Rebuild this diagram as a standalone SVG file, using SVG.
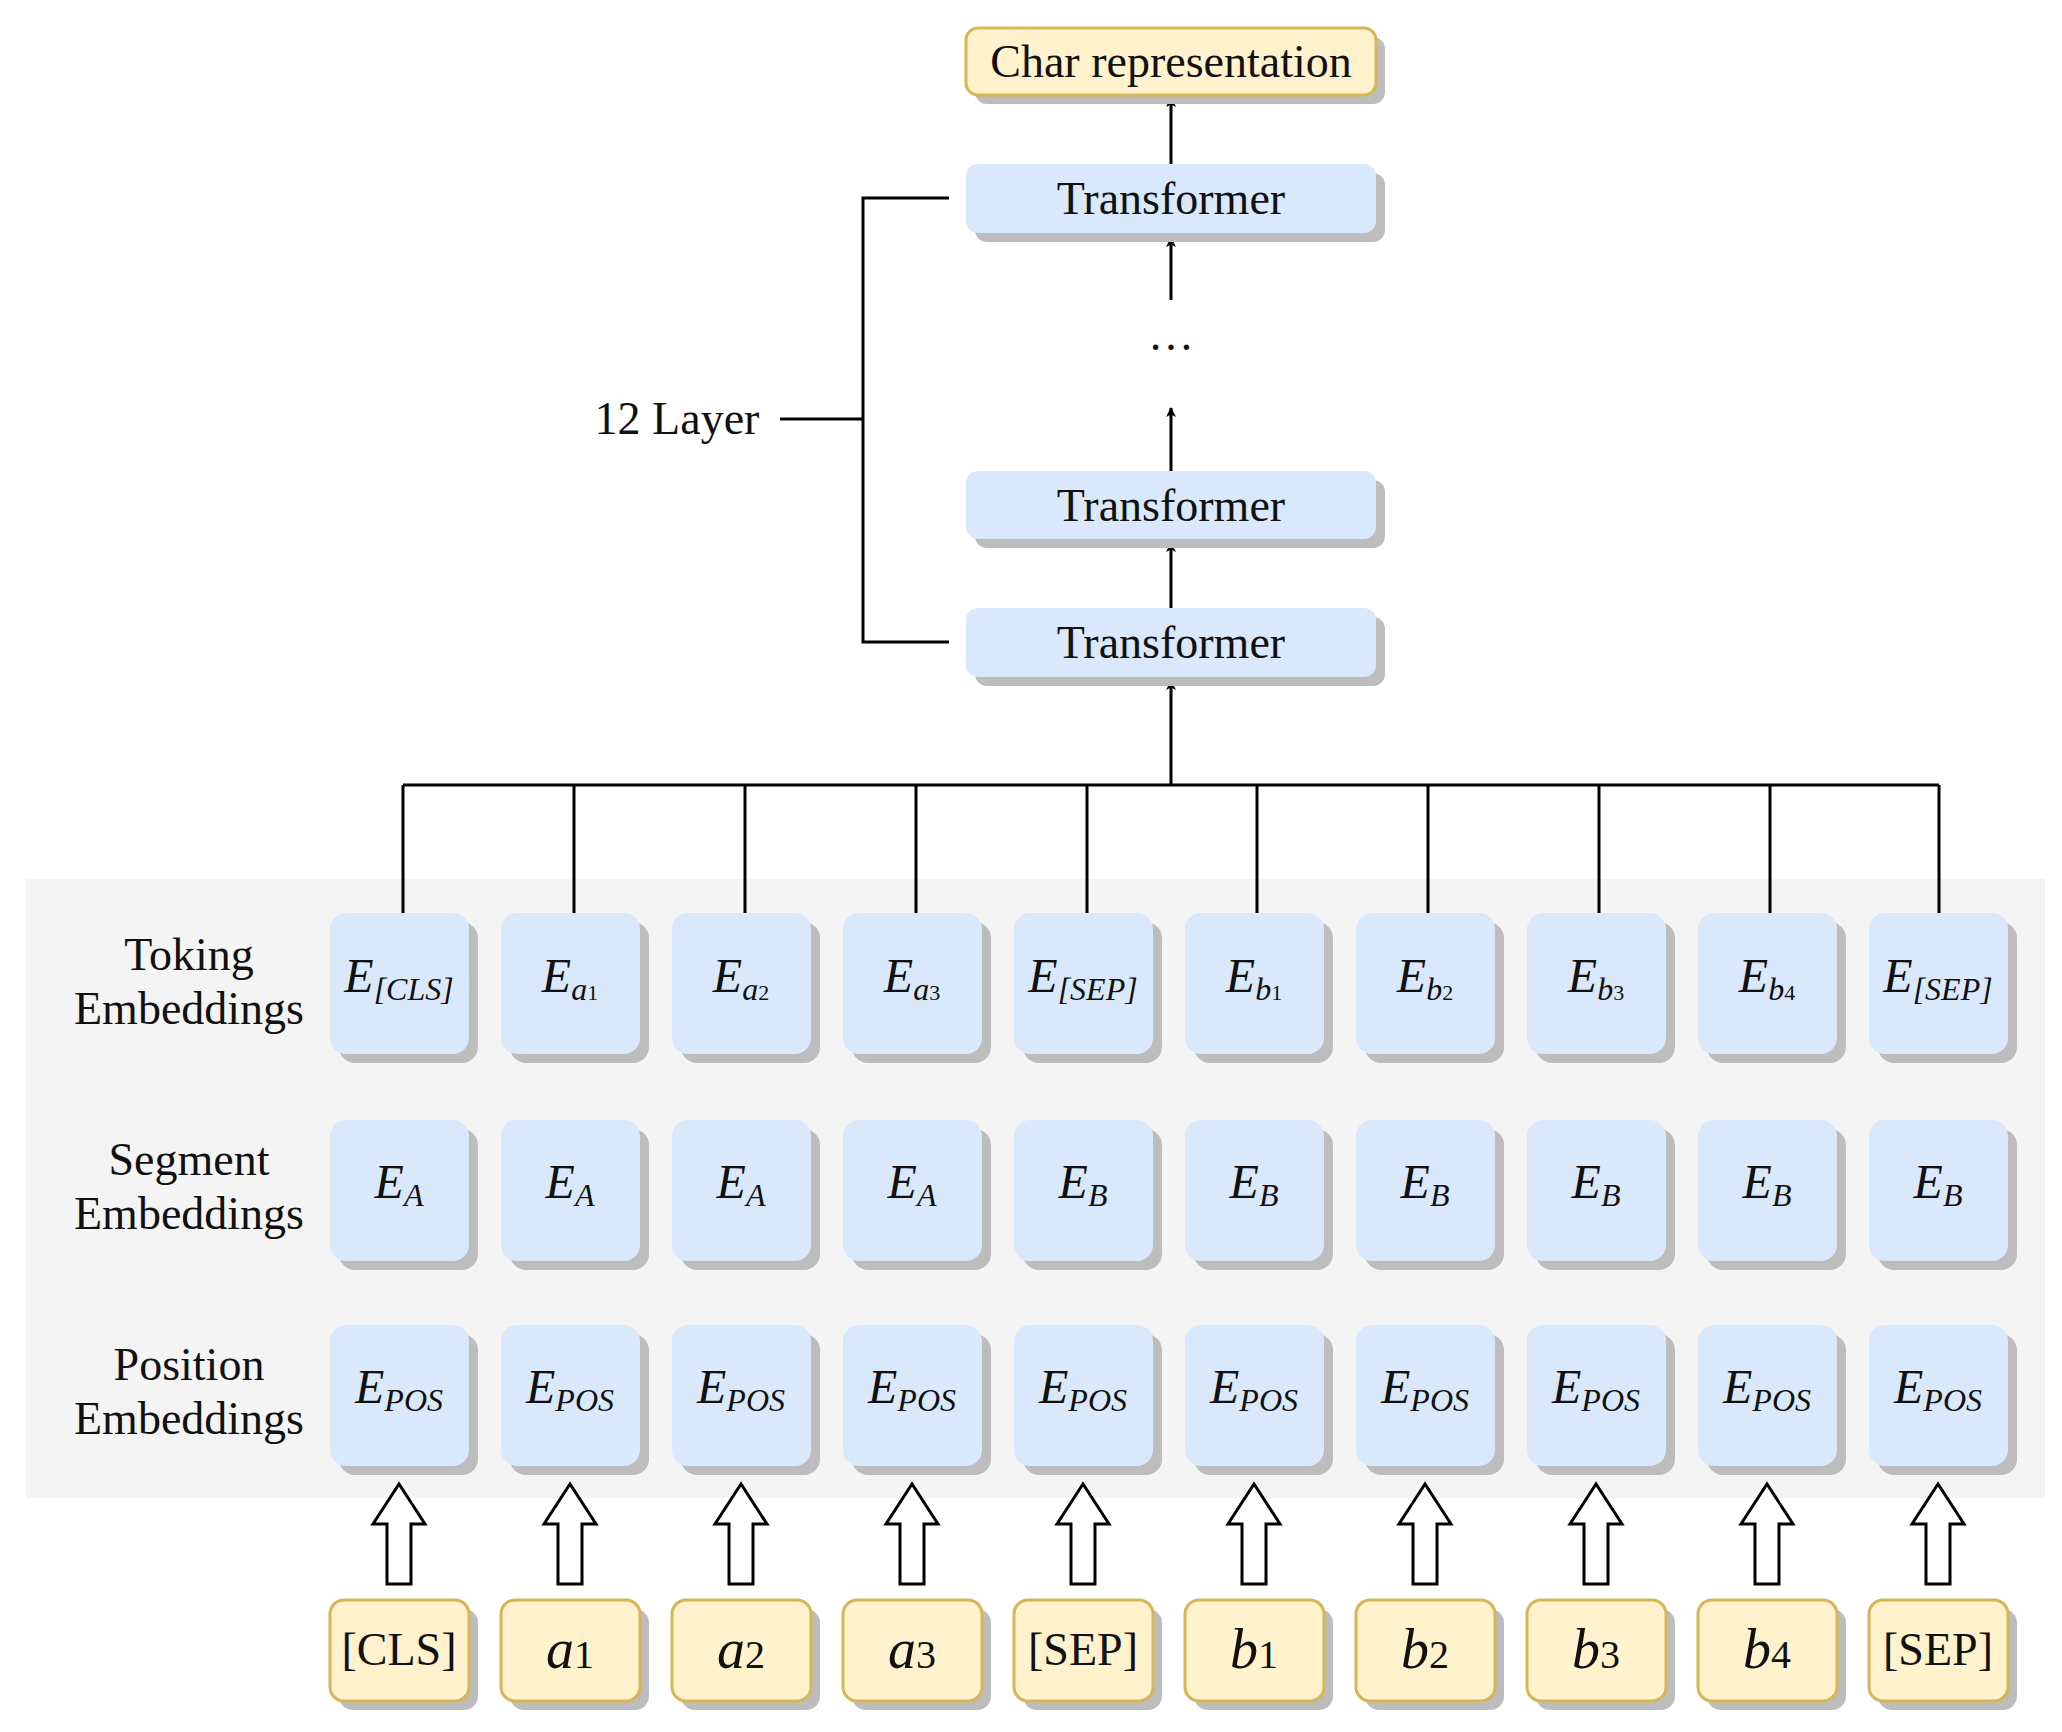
<svg xmlns="http://www.w3.org/2000/svg" width="2062" height="1732" viewBox="0 0 2062 1732">
<style>
text{font-family:"Liberation Serif","DejaVu Serif",serif;fill:#111}
.t{font-size:46px;text-anchor:middle}
.m{font-size:48px;font-style:italic;text-anchor:middle}
.s{font-size:32px}
.sh{fill:#bdbdbd}
.b{fill:#dae8fc}
.y{fill:#fff2cc;stroke:#d6b656;stroke-width:3}
.ln{stroke:#000;stroke-width:3;fill:none}
.ho{fill:#fff;stroke:#000;stroke-width:3}
</style>
<defs>
<marker id="ah" viewBox="0 0 20 20" refX="18" refY="10" markerWidth="10" markerHeight="10" markerUnits="userSpaceOnUse" orient="auto"><path d="M0,0 L20,10 L0,20 L5,10 Z" fill="#000"/></marker>
<g id="blue"><rect x="9" y="9" width="139" height="141" rx="16" class="sh"/><rect x="0" y="0" width="139" height="141" rx="16" class="b"/></g>
<g id="yel"><rect x="9" y="9" width="139" height="101" rx="14" class="sh"/><rect x="0" y="0" width="139" height="101" rx="14" class="y"/></g>
<path id="ha" d="M0,-50 L-26,-10 L-12,-10 L-12,50 L12,50 L12,-10 L26,-10 Z"/>
</defs>
<rect x="26" y="879" width="2019" height="619" fill="#f4f4f4"/>
<g id="connectors">
<line class="ln" x1="1171" y1="164" x2="1171" y2="98" marker-end="url(#ah)"/>
<line class="ln" x1="1171" y1="300" x2="1171" y2="238" marker-end="url(#ah)"/>
<line class="ln" x1="1171" y1="471" x2="1171" y2="408" marker-end="url(#ah)"/>
<line class="ln" x1="1171" y1="608" x2="1171" y2="543" marker-end="url(#ah)"/>
<line class="ln" x1="1171" y1="785" x2="1171" y2="681" marker-end="url(#ah)"/>
<polyline class="ln" points="949,198 863,198 863,642 949,642"/>
<line class="ln" x1="780" y1="419" x2="863" y2="419"/>
<line class="ln" x1="403" y1="785" x2="1939" y2="785"/>
<g class="ln">
<line x1="403" y1="785" x2="403" y2="913"/><line x1="574" y1="785" x2="574" y2="913"/><line x1="745" y1="785" x2="745" y2="913"/><line x1="916" y1="785" x2="916" y2="913"/><line x1="1087" y1="785" x2="1087" y2="913"/><line x1="1257" y1="785" x2="1257" y2="913"/><line x1="1428" y1="785" x2="1428" y2="913"/><line x1="1599" y1="785" x2="1599" y2="913"/><line x1="1770" y1="785" x2="1770" y2="913"/><line x1="1939" y1="785" x2="1939" y2="913"/>
</g>
<g class="ho">
<use href="#ha" x="399" y="1534"/><use href="#ha" x="570" y="1534"/><use href="#ha" x="741" y="1534"/><use href="#ha" x="912" y="1534"/><use href="#ha" x="1083" y="1534"/><use href="#ha" x="1254" y="1534"/><use href="#ha" x="1425" y="1534"/><use href="#ha" x="1596" y="1534"/><use href="#ha" x="1767" y="1534"/><use href="#ha" x="1938" y="1534"/>
</g>
</g>
<g id="char"><rect x="975" y="37" width="410" height="67" rx="12" class="sh"/><rect x="966" y="28" width="410" height="67" rx="12" class="y"/><text class="t" x="1171" y="77">Char representation</text></g>
<g id="tf3"><rect x="975" y="173" width="410" height="69" rx="12" class="sh"/><rect x="966" y="164" width="410" height="69" rx="12" class="b"/><text class="t" x="1171" y="214">Transformer</text></g>
<g id="dots"><text class="t" x="1171" y="350">…</text></g>
<g id="tf2"><rect x="975" y="480" width="410" height="68" rx="12" class="sh"/><rect x="966" y="471" width="410" height="68" rx="12" class="b"/><text class="t" x="1171" y="521">Transformer</text></g>
<g id="tf1"><rect x="975" y="617" width="410" height="69" rx="12" class="sh"/><rect x="966" y="608" width="410" height="69" rx="12" class="b"/><text class="t" x="1171" y="658">Transformer</text></g>
<g id="layer"><text class="t" x="677" y="434">12 Layer</text></g>
<g id="labels">
<text class="t" x="189" y="970">Toking</text><text class="t" x="189" y="1024">Embeddings</text>
<text class="t" x="189" y="1175">Segment</text><text class="t" x="189" y="1229">Embeddings</text>
<text class="t" x="189" y="1380">Position</text><text class="t" x="189" y="1434">Embeddings</text>
</g>
<g id="row1">
<use href="#blue" x="330" y="913"/><use href="#blue" x="501" y="913"/><use href="#blue" x="672" y="913"/><use href="#blue" x="843" y="913"/><use href="#blue" x="1014" y="913"/><use href="#blue" x="1185" y="913"/><use href="#blue" x="1356" y="913"/><use href="#blue" x="1527" y="913"/><use href="#blue" x="1698" y="913"/><use href="#blue" x="1869" y="913"/>
<text class="m" x="399" y="992">E<tspan class="s" dy="8">[CLS]</tspan></text>
<text class="m" x="570" y="992">E<tspan class="s" dy="8">a</tspan><tspan class="s" style="font-size:22px;font-style:normal">1</tspan></text>
<text class="m" x="741" y="992">E<tspan class="s" dy="8">a</tspan><tspan class="s" style="font-size:22px;font-style:normal">2</tspan></text>
<text class="m" x="912" y="992">E<tspan class="s" dy="8">a</tspan><tspan class="s" style="font-size:22px;font-style:normal">3</tspan></text>
<text class="m" x="1083" y="992">E<tspan class="s" dy="8">[SEP]</tspan></text>
<text class="m" x="1254" y="992">E<tspan class="s" dy="8">b</tspan><tspan class="s" style="font-size:22px;font-style:normal">1</tspan></text>
<text class="m" x="1425" y="992">E<tspan class="s" dy="8">b</tspan><tspan class="s" style="font-size:22px;font-style:normal">2</tspan></text>
<text class="m" x="1596" y="992">E<tspan class="s" dy="8">b</tspan><tspan class="s" style="font-size:22px;font-style:normal">3</tspan></text>
<text class="m" x="1767" y="992">E<tspan class="s" dy="8">b</tspan><tspan class="s" style="font-size:22px;font-style:normal">4</tspan></text>
<text class="m" x="1938" y="992">E<tspan class="s" dy="8">[SEP]</tspan></text>
</g>
<g id="row2">
<use href="#blue" x="330" y="1120"/><use href="#blue" x="501" y="1120"/><use href="#blue" x="672" y="1120"/><use href="#blue" x="843" y="1120"/><use href="#blue" x="1014" y="1120"/><use href="#blue" x="1185" y="1120"/><use href="#blue" x="1356" y="1120"/><use href="#blue" x="1527" y="1120"/><use href="#blue" x="1698" y="1120"/><use href="#blue" x="1869" y="1120"/>
<text class="m" x="399" y="1198">E<tspan class="s" dy="8">A</tspan></text>
<text class="m" x="570" y="1198">E<tspan class="s" dy="8">A</tspan></text>
<text class="m" x="741" y="1198">E<tspan class="s" dy="8">A</tspan></text>
<text class="m" x="912" y="1198">E<tspan class="s" dy="8">A</tspan></text>
<text class="m" x="1083" y="1198">E<tspan class="s" dy="8">B</tspan></text>
<text class="m" x="1254" y="1198">E<tspan class="s" dy="8">B</tspan></text>
<text class="m" x="1425" y="1198">E<tspan class="s" dy="8">B</tspan></text>
<text class="m" x="1596" y="1198">E<tspan class="s" dy="8">B</tspan></text>
<text class="m" x="1767" y="1198">E<tspan class="s" dy="8">B</tspan></text>
<text class="m" x="1938" y="1198">E<tspan class="s" dy="8">B</tspan></text>
</g>
<g id="row3">
<use href="#blue" x="330" y="1325"/><use href="#blue" x="501" y="1325"/><use href="#blue" x="672" y="1325"/><use href="#blue" x="843" y="1325"/><use href="#blue" x="1014" y="1325"/><use href="#blue" x="1185" y="1325"/><use href="#blue" x="1356" y="1325"/><use href="#blue" x="1527" y="1325"/><use href="#blue" x="1698" y="1325"/><use href="#blue" x="1869" y="1325"/>
<text class="m" x="399" y="1403">E<tspan class="s" dy="8">POS</tspan></text>
<text class="m" x="570" y="1403">E<tspan class="s" dy="8">POS</tspan></text>
<text class="m" x="741" y="1403">E<tspan class="s" dy="8">POS</tspan></text>
<text class="m" x="912" y="1403">E<tspan class="s" dy="8">POS</tspan></text>
<text class="m" x="1083" y="1403">E<tspan class="s" dy="8">POS</tspan></text>
<text class="m" x="1254" y="1403">E<tspan class="s" dy="8">POS</tspan></text>
<text class="m" x="1425" y="1403">E<tspan class="s" dy="8">POS</tspan></text>
<text class="m" x="1596" y="1403">E<tspan class="s" dy="8">POS</tspan></text>
<text class="m" x="1767" y="1403">E<tspan class="s" dy="8">POS</tspan></text>
<text class="m" x="1938" y="1403">E<tspan class="s" dy="8">POS</tspan></text>
</g>
<g id="inputs">
<use href="#yel" x="330" y="1600"/><use href="#yel" x="501" y="1600"/><use href="#yel" x="672" y="1600"/><use href="#yel" x="843" y="1600"/><use href="#yel" x="1014" y="1600"/><use href="#yel" x="1185" y="1600"/><use href="#yel" x="1356" y="1600"/><use href="#yel" x="1527" y="1600"/><use href="#yel" x="1698" y="1600"/><use href="#yel" x="1869" y="1600"/>
<text class="t" x="399" y="1665">[CLS]</text>
<text class="m" x="570" y="1668" style="font-size:56px">a<tspan style="font-style:normal;font-size:40px">1</tspan></text>
<text class="m" x="741" y="1668" style="font-size:56px">a<tspan style="font-style:normal;font-size:40px">2</tspan></text>
<text class="m" x="912" y="1668" style="font-size:56px">a<tspan style="font-style:normal;font-size:40px">3</tspan></text>
<text class="t" x="1083" y="1665">[SEP]</text>
<text class="m" x="1254" y="1668" style="font-size:56px">b<tspan style="font-style:normal;font-size:40px">1</tspan></text>
<text class="m" x="1425" y="1668" style="font-size:56px">b<tspan style="font-style:normal;font-size:40px">2</tspan></text>
<text class="m" x="1596" y="1668" style="font-size:56px">b<tspan style="font-style:normal;font-size:40px">3</tspan></text>
<text class="m" x="1767" y="1668" style="font-size:56px">b<tspan style="font-style:normal;font-size:40px">4</tspan></text>
<text class="t" x="1938" y="1665">[SEP]</text>
</g>
</svg>
